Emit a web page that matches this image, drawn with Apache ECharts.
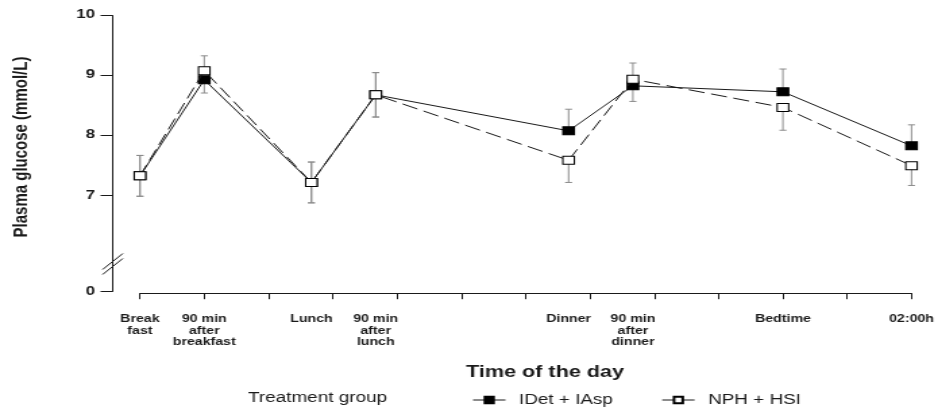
<!DOCTYPE html>
<html>
<head>
<meta charset="utf-8">
<style>
  html, body { margin: 0; padding: 0; background: #fff; }
  #frame { width: 938px; height: 409px; overflow: hidden; }
  /* the figure is drawn on a narrower canvas and widened to the page width */
  #chart { width: 695px; height: 409px; transform: scaleX(1.34964); transform-origin: 0 0; }
</style>
<script src="https://cdn.jsdelivr.net/npm/echarts@6/dist/echarts.min.js"></script>
</head>
<body>
<div id="frame"><div id="chart"></div></div>
<script>
// Measurement times, in hours after breakfast, and their labels
const timeLabels = ['Break\nfast', '90 min\nafter\nbreakfast', 'Lunch', '90 min\nafter\nlunch',
                    'Dinner', '90 min\nafter\ndinner', 'Bedtime', '02:00h'];
const hoursAfterBreakfast = [0, 1.5, 4, 5.5, 10, 11.5, 15, 18];

// Mean plasma glucose (mmol/L) and standard error per treatment group
const idetMean = [7.32, 8.92, 7.21, 8.67, 8.07, 8.82, 8.72, 7.82];
const idetSE   = [0.34, 0.22, 0.34, 0.37, 0.36, 0.26, 0.38, 0.35];
const nphMean  = [7.32, 9.07, 7.21, 8.67, 7.58, 8.93, 8.46, 7.49];
const nphSE    = [0.34, 0.25, 0.34, 0.37, 0.37, 0.27, 0.38, 0.33];

const yTicks = [0, 7, 8, 9, 10];
const seriesNames = ['IDet + IAsp', 'NPH + HSI'];

const FONT = '"Liberation Sans", Arial, Helvetica, sans-serif';
const INK = '#1a1a1a';

// Error bars point away from the other group: up for the higher mean, down for the lower
function errorBars(mean, se, other) {
  const out = [];
  for (let i = 0; i < mean.length; i++) {
    const lo = mean[i] <= other[i] ? mean[i] - se[i] : mean[i];
    const hi = mean[i] >= other[i] ? mean[i] + se[i] : mean[i];
    out.push([hoursAfterBreakfast[i], lo, hi]);
  }
  return out;
}

function pairs(mean) {
  return mean.map((v, i) => [hoursAfterBreakfast[i], v]);
}

function renderErrorBar(params, api) {
  const x = api.value(0);
  const top = api.coord([x, api.value(2)]);
  const bot = api.coord([x, api.value(1)]);
  const half = 2.6;
  const style = { stroke: '#8c8c8c', lineWidth: 1 };
  return {
    type: 'group',
    children: [
      { type: 'line', shape: { x1: top[0], y1: top[1], x2: bot[0], y2: bot[1] }, style },
      { type: 'line', shape: { x1: top[0] - half, y1: top[1], x2: top[0] + half, y2: top[1] }, style },
      { type: 'line', shape: { x1: bot[0] - half, y1: bot[1], x2: bot[0] + half, y2: bot[1] }, style }
    ]
  };
}

const GRID_LEFT = 103.7, Y_OFFSET = 20.7;
const BREAK = { start: 0.42, end: 5.91, gap: 0.1 };

const chart = echarts.init(document.getElementById('chart'), null, { renderer: 'canvas' });

chart.setOption({
  animation: false,
  backgroundColor: '#ffffff',
  textStyle: { fontFamily: FONT },
  grid: { left: GRID_LEFT, right: 19.5, top: 15, bottom: 117.3, containLabel: false },
  xAxis: {
    type: 'value',
    min: 0, max: 18, interval: 1.5,
    offset: 1.5,
    axisLine: { show: true, onZero: false, lineStyle: { color: INK, width: 1 } },
    axisTick: { show: true, length: 6, lineStyle: { color: INK, width: 1 } },
    axisLabel: {
      customValues: hoursAfterBreakfast,
      formatter: v => timeLabels[hoursAfterBreakfast.indexOf(v)] || '',
      margin: 20,
      fontFamily: FONT, fontWeight: 'bold', fontSize: 10.5, lineHeight: 11.7, color: INK
    },
    splitLine: { show: false }
  },
  yAxis: {
    type: 'value',
    min: 0, max: 10,
    offset: Y_OFFSET,
    breaks: [BREAK],
    breakArea: { show: false },
    axisLine: { show: true, onZero: false, lineStyle: { color: INK, width: 1 } },
    axisTick: { show: true, length: 8.5, customValues: yTicks, lineStyle: { color: INK, width: 1 } },
    axisLabel: {
      customValues: yTicks,
      margin: 12.6,
      fontFamily: FONT, fontWeight: 'bold', fontSize: 12.5, color: INK
    },
    splitLine: { show: false }
  },
  legend: {
    left: 345, top: 388,
    itemWidth: 24, itemHeight: 8, itemGap: 36,
    textStyle: { fontFamily: FONT, fontSize: 14, color: INK, padding: [0, 0, 0, 5] },
    lineStyle: { type: 'solid', width: 1, color: INK },
    data: seriesNames
  },
  series: [
    {
      type: 'custom', name: 'idet-err', renderItem: renderErrorBar, z: 1, silent: true,
      data: errorBars(idetMean, idetSE, nphMean)
    },
    {
      type: 'custom', name: 'nph-err', renderItem: renderErrorBar, z: 1, silent: true,
      data: errorBars(nphMean, nphSE, idetMean)
    },
    {
      type: 'line', name: seriesNames[0], z: 3,
      data: pairs(idetMean),
      symbol: 'rect', symbolSize: [8.5, 8],
      itemStyle: { color: '#000', borderColor: '#000', borderWidth: 1 },
      lineStyle: { color: INK, width: 1, type: 'solid' }
    },
    {
      type: 'line', name: seriesNames[1], z: 4,
      data: pairs(nphMean),
      symbol: 'rect', symbolSize: [8.5, 8],
      itemStyle: { color: '#fff', borderColor: '#000', borderWidth: 1 },
      lineStyle: { color: INK, width: 1, type: [12, 5] }
    }
  ]
});

// Axis line kept continuous across the break, crossed by a double slash;
// titles placed as free text
const breakLo = chart.convertToPixel({ yAxisIndex: 0 }, BREAK.start);
const breakHi = chart.convertToPixel({ yAxisIndex: 0 }, BREAK.end);
const breakMid = (breakLo + breakHi) / 2;
const axisX = GRID_LEFT - Y_OFFSET + 0.5;
chart.setOption({
  graphic: [
    {
      type: 'text', x: 16.3, y: 147, rotation: Math.PI / 2,
      style: {
        text: 'Plasma glucose (mmol/L)', font: 'bold 15px ' + FONT, fill: INK,
        align: 'center', verticalAlign: 'middle'
      }
    },
    {
      type: 'text', x: 403.8, y: 373,
      style: {
        text: 'Time of the day', font: 'bold 16px ' + FONT, fill: INK,
        align: 'center', verticalAlign: 'middle'
      }
    },
    {
      type: 'text', x: 183.8, y: 398.5,
      style: { text: 'Treatment group', font: '14px ' + FONT, fill: INK, verticalAlign: 'middle' }
    },
    {
      type: 'line', shape: { x1: axisX, y1: breakLo + 2, x2: axisX, y2: breakHi - 2 },
      style: { stroke: INK, lineWidth: 1 }, z: 100
    },
    {
      type: 'line', shape: { x1: axisX - 7.5, y1: breakMid + 6, x2: axisX + 7.5, y2: breakMid - 10 },
      style: { stroke: INK, lineWidth: 1 }, z: 101
    },
    {
      type: 'line', shape: { x1: axisX - 7.5, y1: breakMid + 11, x2: axisX + 7.5, y2: breakMid - 5 },
      style: { stroke: INK, lineWidth: 1 }, z: 101
    }
  ]
});
</script>
</body>
</html>
